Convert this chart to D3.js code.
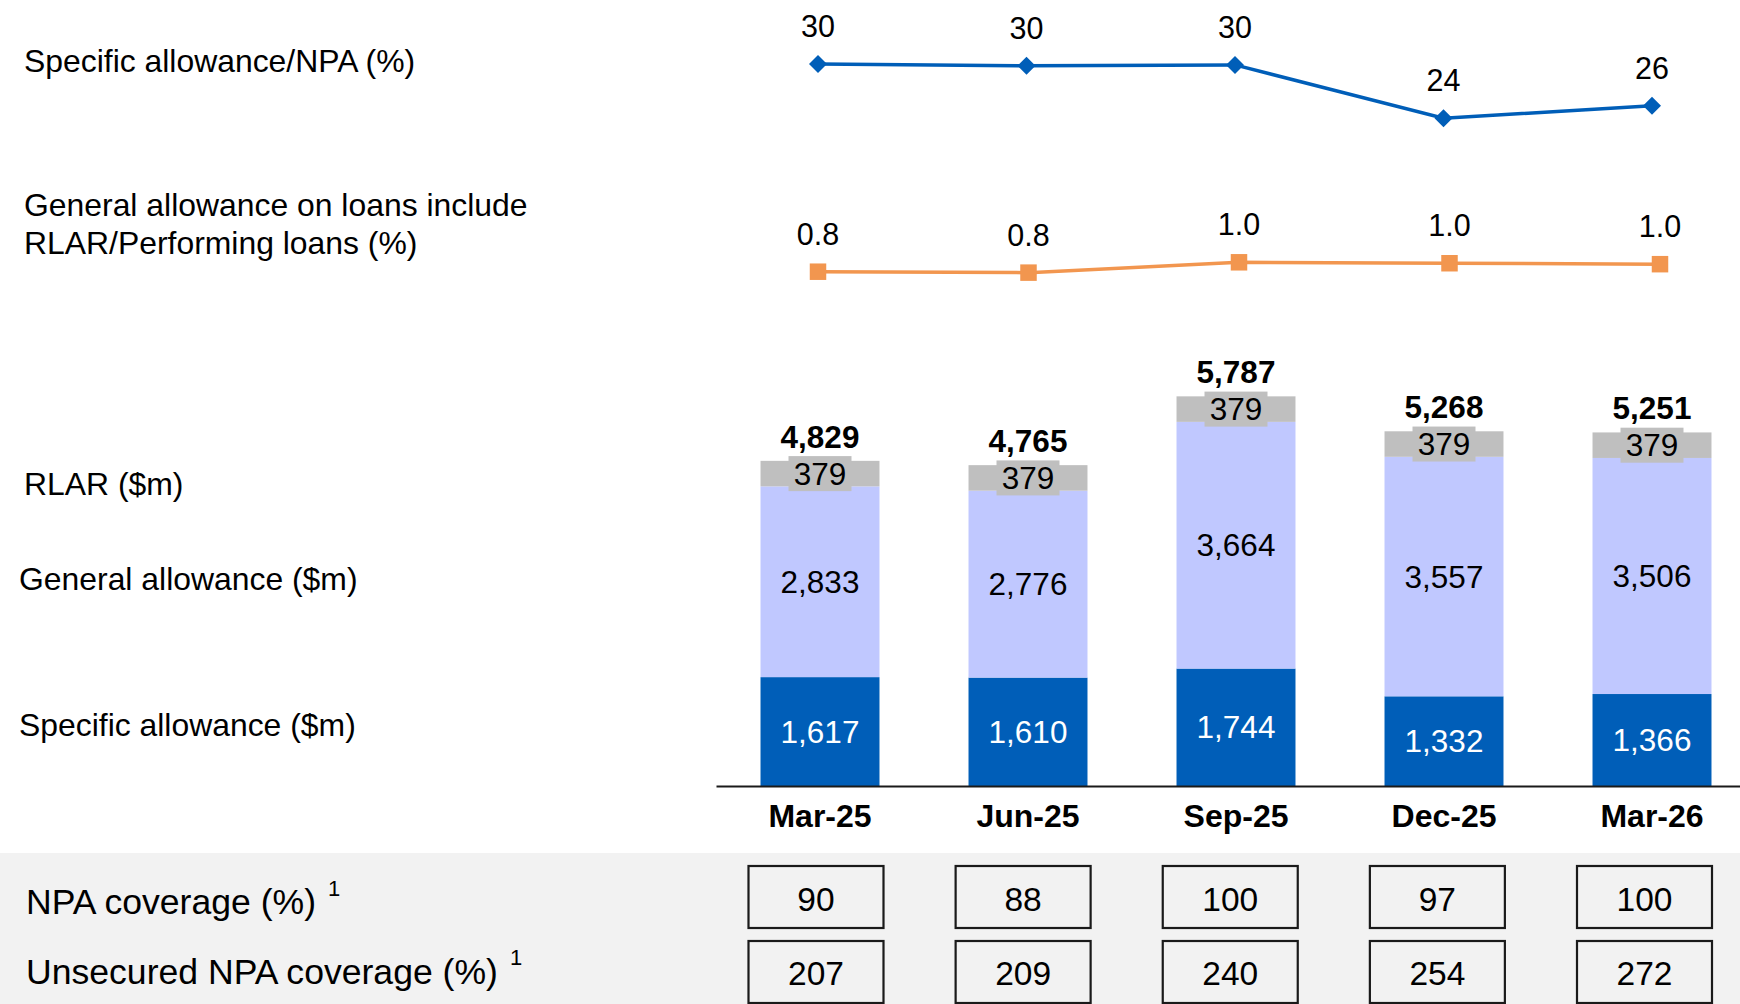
<!DOCTYPE html>
<html>
<head>
<meta charset="utf-8">
<script src="https://cdn.jsdelivr.net/npm/d3@7"></script>
<style>
  html, body { margin: 0; padding: 0; background: #ffffff; }
  svg { display: block; }
  text { font-family: "Liberation Sans", Arial, sans-serif; }
</style>
</head>
<body>
<svg id="chart" width="1740" height="1004"></svg>
<script>
// ---------------- Data ----------------
const categories = ["Mar-25", "Jun-25", "Sep-25", "Dec-25", "Mar-26"];
const specificAllowance = [1617, 1610, 1744, 1332, 1366];
const generalAllowance = [2833, 2776, 3664, 3557, 3506];
const rlar = [379, 379, 379, 379, 379];
const specificAllowanceToNpa = [30.2, 30.0, 30.1, 24.2, 25.6];
const generalAllowanceToPerforming = [0.80, 0.78, 1.00, 0.98, 0.96];
const npaCoverage = [90, 88, 100, 97, 100];
const unsecuredNpaCoverage = [207, 209, 240, 254, 272];
const seriesKeys = ["specific", "general", "rlar"];
const seriesColors = ["#005EB8", "#C0C8FF", "#BFBFBF"];
const seriesTextColors = ["#ffffff", "#000000", "#000000"];

// ---------------- Setup ----------------
const W = 1740, H = 1004;
const svg = d3.select("#chart");
const fmtInt = d3.format(",.0f");
const fmt0 = d3.format(".0f");
const fmt1 = d3.format(".1f");
const FONT_L = 31.9;

const rows = categories.map((c, i) => ({
  cat: c, specific: specificAllowance[i], general: generalAllowance[i], rlar: rlar[i]
}));
const totals = rows.map(r => r.specific + r.general + r.rlar);

const x = d3.scaleBand().domain(categories).range([716, 1756])
  .paddingInner(0.428).paddingOuter(0.214);
const y = d3.scaleLinear().domain([0, 6000]).range([786, 382]);

const stacked = d3.stack().keys(seriesKeys)(rows);

// ---------------- Bottom panel ----------------
svg.append("rect").attr("x", 0).attr("y", 853).attr("width", W).attr("height", H - 853)
  .attr("fill", "#F2F2F2");

// ---------------- Bars ----------------
const layers = svg.append("g").selectAll("g").data(stacked).join("g")
  .attr("fill", (d, i) => seriesColors[i]);
layers.selectAll("rect").data(d => d).join("rect")
  .attr("x", d => x(d.data.cat))
  .attr("width", x.bandwidth())
  .attr("y", d => y(d[1]))
  .attr("height", d => y(d[0]) - y(d[1]));

// segment labels
stacked.forEach((layer, li) => {
  const g = svg.append("g");
  layer.forEach(d => {
    const cx = x(d.data.cat) + x.bandwidth() / 2;
    const cy = (y(d[0]) + y(d[1])) / 2;
    const val = d[1] - d[0];
    if (seriesKeys[li] === "rlar") {
      g.append("rect").attr("x", cx - 31.5).attr("y", cy - 17.5)
        .attr("width", 63).attr("height", 35).attr("fill", seriesColors[li]);
    }
    g.append("text").attr("x", cx).attr("y", cy).attr("dy", "0.35em")
      .attr("text-anchor", "middle").attr("font-size", 31.5)
      .attr("fill", seriesTextColors[li]).text(fmtInt(val));
  });
});

// totals
svg.append("g").selectAll("text").data(categories).join("text")
  .attr("x", d => x(d) + x.bandwidth() / 2)
  .attr("y", (d, i) => y(totals[i]) - 13)
  .attr("text-anchor", "middle").attr("font-size", 31.5).attr("font-weight", "bold")
  .attr("fill", "#000").text((d, i) => fmtInt(totals[i]));

// x axis
const ax = svg.append("g").attr("transform", "translate(0,786)")
  .call(d3.axisBottom(x).tickSize(0).tickSizeOuter(0).tickPadding(18.4));
ax.select(".domain").attr("stroke", "#1a1a1a").attr("stroke-width", 2);
ax.selectAll("text").attr("font-size", 32).attr("font-weight", "bold")
  .attr("fill", "#000").style("font-family", "'Liberation Sans', Arial, sans-serif");

// ---------------- Line 1: Specific allowance / NPA ----------------
const xPt = d3.scalePoint().domain(categories).range([818, 1652]);
const yBlue = d3.scaleLinear().domain([20, 35]).range([156.3, 20.6]);
const blueData = categories.map((c, i) => ({ c, v: specificAllowanceToNpa[i] }));
svg.append("path").datum(blueData)
  .attr("fill", "none").attr("stroke", "#005EB8").attr("stroke-width", 3.5)
  .attr("d", d3.line().x(d => xPt(d.c)).y(d => yBlue(d.v)));
svg.append("g").selectAll("path").data(blueData).join("path")
  .attr("d", d3.symbol(d3.symbolSquare, 162)())
  .attr("fill", "#005EB8")
  .attr("transform", d => `translate(${xPt(d.c)},${yBlue(d.v)}) rotate(45)`);
svg.append("g").selectAll("text").data(blueData).join("text")
  .attr("x", d => xPt(d.c)).attr("y", d => yBlue(d.v) - 27)
  .attr("text-anchor", "middle").attr("font-size", 30.5).attr("fill", "#000")
  .text(d => fmt0(d.v));

// ---------------- Line 2: General allowance / Performing loans ----------------
const xPt2 = d3.scalePoint().domain(categories).range([818, 1660]);
const yOrange = d3.scaleLinear().domain([0, 2]).range([309.3, 215.3]);
const orangeData = categories.map((c, i) => ({ c, v: generalAllowanceToPerforming[i] }));
svg.append("path").datum(orangeData)
  .attr("fill", "none").attr("stroke", "#F2964F").attr("stroke-width", 3.5)
  .attr("d", d3.line().x(d => xPt2(d.c)).y(d => yOrange(d.v)));
svg.append("g").selectAll("path").data(orangeData).join("path")
  .attr("d", d3.symbol(d3.symbolSquare, 272)())
  .attr("fill", "#F2964F")
  .attr("transform", d => `translate(${xPt2(d.c)},${yOrange(d.v)})`);
svg.append("g").selectAll("text").data(orangeData).join("text")
  .attr("x", d => xPt2(d.c)).attr("y", d => yOrange(d.v) - 27)
  .attr("text-anchor", "middle").attr("font-size", 30.5).attr("fill", "#000")
  .text(d => fmt1(d.v));

// ---------------- Left labels ----------------
const leftLabels = [
  { t: "Specific allowance/NPA (%)", x: 24, y: 72 },
  { t: "General allowance on loans include", x: 24, y: 216 },
  { t: "RLAR/Performing loans (%)", x: 24, y: 254 },
  { t: "RLAR ($m)", x: 24, y: 495 },
  { t: "General allowance ($m)", x: 19, y: 590 },
  { t: "Specific allowance ($m)", x: 19, y: 736 }
];
svg.append("g").selectAll("text").data(leftLabels).join("text")
  .attr("x", d => d.x).attr("y", d => d.y)
  .attr("font-size", FONT_L).attr("fill", "#000").text(d => d.t);

// ---------------- Coverage rows ----------------
const coverageRows = [
  { label: "NPA coverage (%)", values: npaCoverage, base: 914, boxTop: 866, supY: 896, numBase: 911 },
  { label: "Unsecured NPA coverage (%)", values: unsecuredNpaCoverage, base: 984, boxTop: 941, supY: 965, numBase: 985 }
];
const xBox = d3.scalePoint().domain(categories).range([816, 1644.5]);
coverageRows.forEach(r => {
  const t = svg.append("text").attr("x", 26).attr("y", r.base)
    .attr("font-size", 35.6).attr("fill", "#000");
  t.append("tspan").text(r.label);
  t.append("tspan").attr("font-size", 22).attr("dx", 12)
    .attr("dy", r.supY - r.base).text("1");
  const g = svg.append("g");
  categories.forEach((c, i) => {
    g.append("rect").attr("x", xBox(c) - 67.5).attr("y", r.boxTop)
      .attr("width", 135).attr("height", 62)
      .attr("fill", "none").attr("stroke", "#1a1a1a").attr("stroke-width", 2.2);
    g.append("text").attr("x", xBox(c)).attr("y", r.numBase)
      .attr("text-anchor", "middle").attr("font-size", 33.5).attr("fill", "#000")
      .text(r.values[i]);
  });
});
</script>
</body>
</html>
